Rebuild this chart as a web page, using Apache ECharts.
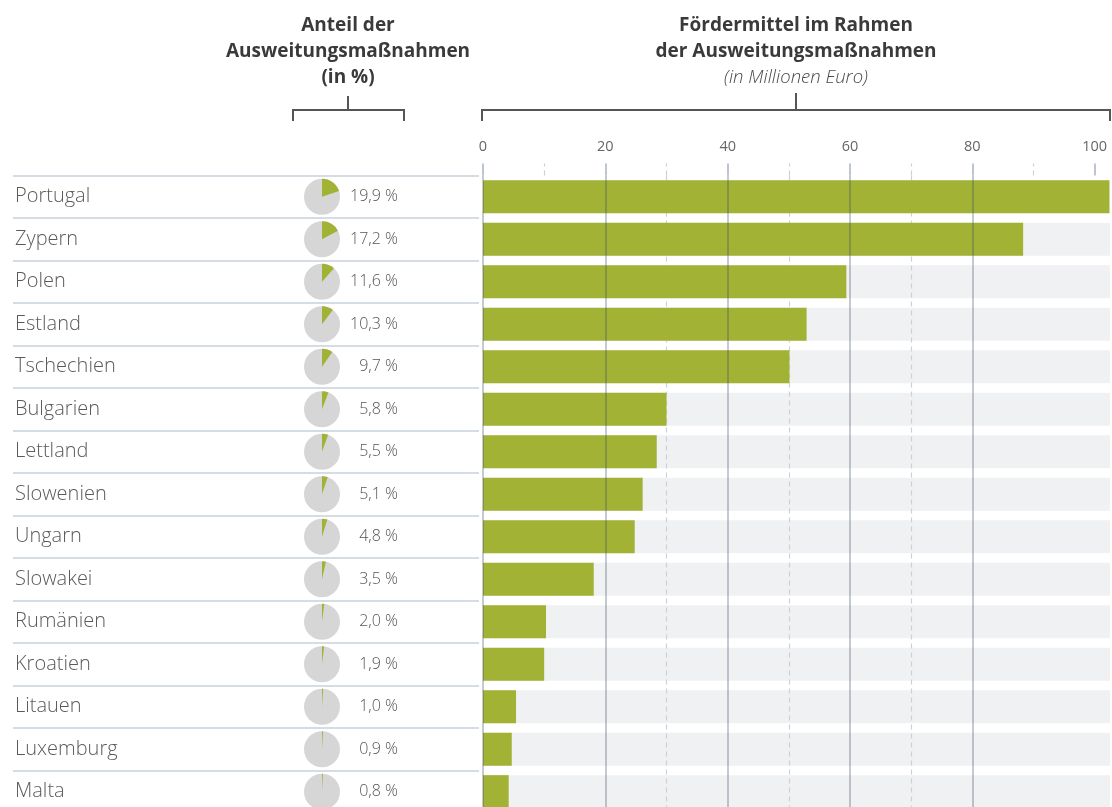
<!DOCTYPE html>
<html>
<head>
<meta charset="utf-8">
<script src="https://cdn.jsdelivr.net/npm/echarts@6/dist/echarts.min.js"></script>
<style>
html,body{margin:0;padding:0;background:#fff;overflow:hidden;}
#chart{width:1112px;height:816px;}
</style>
</head>
<body>
<div id="chart"></div>
<script>
const countries = ['Portugal','Zypern','Polen','Estland','Tschechien','Bulgarien','Lettland','Slowenien','Ungarn','Slowakei','Rumänien','Kroatien','Litauen','Luxemburg','Malta'];
const shares = [19.9,17.2,11.6,10.3,9.7,5.8,5.5,5.1,4.8,3.5,2.0,1.9,1.0,0.9,0.8];
const funding = [102.4,88.3,59.4,52.9,50.1,30.0,28.4,26.1,24.8,18.1,10.3,10.0,5.4,4.7,4.2];
const majorTicks = [0,20,40,60,80,100];
const minorTicks = [10,30,50,70,90];
const xMax = 102.5;

const FONT = '"Open Sans", "Noto Sans", sans-serif';
const GREEN = '#a2b234';
const SOLID = 'rgba(60,75,100,0.4)';
const DASH = '#ccd1d8';
const SEP = '#c9d0da';

const chart = echarts.init(document.getElementById('chart'), null, {renderer:'canvas'});

const titleStyle = (text, y, font, fill) => ({
  type: 'text', y: y,
  style: {text: text, font: font, fill: fill, align: 'center', verticalAlign: 'middle', textAlign: 'center', textVerticalAlign: 'middle'}
});

const option = {
  backgroundColor: '#fff',
  animation: false,
  textStyle: {fontFamily: FONT},
  grid: [
    {left: 483, width: 627, top: 175.5, height: 637.5, containLabel: false},
    {left: 13, width: 466, top: 175.5, height: 637.5, containLabel: false}
  ],
  xAxis: [
    {
      type: 'value', gridIndex: 0, position: 'top', min: 0, max: xMax, interval: 20, z: 4,
      axisLine: {show: false},
      axisTick: {show: true, inside: false, length: 12, customValues: majorTicks, lineStyle: {color: '#aab3c0', width: 1.5}},
      axisLabel: {show: true, customValues: majorTicks, margin: 21, fontSize: 14.5, color: '#666', fontFamily: FONT},
      splitLine: {show: true, showMaxLine: false, lineStyle: {color: SOLID, width: 1.5}}
    },
    {
      type: 'value', gridIndex: 0, position: 'top', min: 0, max: xMax, interval: 10, z: 2,
      axisLine: {show: false},
      axisTick: {show: true, inside: false, length: 12, customValues: minorTicks, lineStyle: {color: DASH, width: 1.2, type: [5,4]}},
      axisLabel: {show: false},
      splitLine: {show: true, showMinLine: false, showMaxLine: false, lineStyle: {color: DASH, width: 1.2, type: [5,4]}}
    },
    {
      type: 'value', gridIndex: 1, min: 0, max: 466, show: false
    }
  ],
  yAxis: [
    {
      type: 'category', gridIndex: 0, data: countries, inverse: true,
      axisLine: {show: false}, axisTick: {show: false}, axisLabel: {show: false}, splitLine: {show: false}
    },
    {
      type: 'category', gridIndex: 1, data: countries, inverse: true,
      axisLine: {show: false}, axisTick: {show: false},
      axisLabel: {show: true, inside: true, margin: 2, fontSize: 20, color: '#5a5a5a', fontFamily: FONT, fontWeight: 300},
      splitLine: {show: true, lineStyle: {color: SEP, width: 1.5}}
    }
  ],
  series: [
    {
      type: 'bar', xAxisIndex: 0, yAxisIndex: 0, z: 1, silent: true,
      data: funding.map(() => xMax),
      barCategoryGap: '22%', barGap: '-100%',
      itemStyle: {color: '#f0f1f3'}
    },
    {
      type: 'bar', xAxisIndex: 0, yAxisIndex: 0, z: 3,
      data: funding,
      barCategoryGap: '22%', barGap: '-100%',
      itemStyle: {color: GREEN}
    },
    {
      type: 'custom', xAxisIndex: 2, yAxisIndex: 1, clip: false,
      data: shares.map((s, i) => [s, i]),
      encode: {x: 0, y: 1},
      renderItem: function (params, api) {
        const s = api.value(0);
        const idx = api.value(1);
        const cy = api.coord([0, idx])[1];
        const cx = params.coordSys.x + 309;
        const r = 18;
        const start = -Math.PI / 2;
        const end = start + Math.PI * 2 * s / 100;
        const label = s.toFixed(1).replace('.', ',') + ' %';
        return {
          type: 'group',
          children: [
            {type: 'circle', shape: {cx: cx, cy: cy, r: r}, style: {fill: '#d6d6d6'}},
            {type: 'sector', shape: {cx: cx, cy: cy, r0: 0, r: r, startAngle: start, endAngle: end, clockwise: true}, style: {fill: GREEN}},
            {type: 'text', x: cx + 76, y: cy, style: {text: label, fill: '#555', font: '300 16px ' + FONT, align: 'right', verticalAlign: 'middle', textAlign: 'right', textVerticalAlign: 'middle'}}
          ]
        };
      }
    }
  ],
  graphic: [
    Object.assign(titleStyle('Anteil der', 26, 'bold 19px ' + FONT, '#3a3a3a'), {x: 348}),
    Object.assign(titleStyle('Ausweitungsmaßnahmen', 52, 'bold 19px ' + FONT, '#3a3a3a'), {x: 348}),
    Object.assign(titleStyle('(in %)', 78, 'bold 19px ' + FONT, '#3a3a3a'), {x: 348}),
    Object.assign(titleStyle('Fördermittel im Rahmen', 26, 'bold 19px ' + FONT, '#3a3a3a'), {x: 796}),
    Object.assign(titleStyle('der Ausweitungsmaßnahmen', 52, 'bold 19px ' + FONT, '#3a3a3a'), {x: 796}),
    Object.assign(titleStyle('(in Millionen Euro)', 78, 'italic 300 18.5px ' + FONT, '#4a4a4a'), {x: 796}),
    {type: 'polyline', shape: {points: [[293,121],[293,110],[404,110],[404,121]]}, style: {stroke: '#555', lineWidth: 2, fill: null}},
    {type: 'line', shape: {x1: 348, y1: 110, x2: 348, y2: 96}, style: {stroke: '#555', lineWidth: 2}},
    {type: 'polyline', shape: {points: [[482,121],[482,110],[1110,110],[1110,121]]}, style: {stroke: '#555', lineWidth: 2, fill: null}},
    {type: 'line', shape: {x1: 796, y1: 110, x2: 796, y2: 93}, style: {stroke: '#555', lineWidth: 2}}
  ]
};

chart.setOption(option);
</script>
</body>
</html>
